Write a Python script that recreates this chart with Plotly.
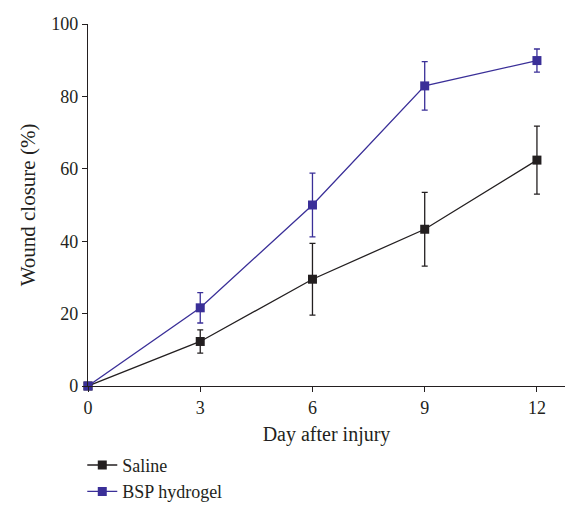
import plotly.graph_objects as go

days = [0, 3, 6, 9, 12]
saline = [0, 12.3, 29.5, 43.3, 62.4]
saline_err = [0, 3.2, 9.9, 10.2, 9.4]
bsp = [0, 21.6, 50.0, 82.9, 89.9]
bsp_err = [0, 4.2, 8.8, 6.7, 3.2]

x_ticks = [0, 3, 6, 9, 12]
y_ticks = [0, 20, 40, 60, 80, 100]

FONT = "Liberation Serif"
BLACK = "#231f20"
BLUE = "#3a2f98"

fig = go.Figure()
fig.add_trace(go.Scatter(
    x=days, y=saline, name="Saline", mode="lines+markers",
    line=dict(color=BLACK, width=1.3),
    marker=dict(symbol="square", size=9, color=BLACK),
    error_y=dict(type="data", array=saline_err, visible=True,
                 color=BLACK, thickness=1.3, width=3),
    cliponaxis=False,
))
fig.add_trace(go.Scatter(
    x=days, y=bsp, name="BSP hydrogel", mode="lines+markers",
    line=dict(color=BLUE, width=1.3),
    marker=dict(symbol="square", size=9, color=BLUE),
    error_y=dict(type="data", array=bsp_err, visible=True,
                 color=BLUE, thickness=1.3, width=3),
    cliponaxis=False,
))

fig.update_layout(
    width=565, height=510,
    margin=dict(l=88, r=0, t=24, b=124, autoexpand=False),
    paper_bgcolor="white", plot_bgcolor="white",
    font=dict(family=FONT, size=19, color=BLACK),
    showlegend=True,
    legend=dict(x=-0.012, y=-0.168, xanchor="left", yanchor="top",
                font=dict(family=FONT, size=18, color=BLACK),
                bgcolor="rgba(0,0,0,0)", tracegroupgap=0,
                itemwidth=30),
    xaxis=dict(
        range=[0, 12.75], tickvals=x_ticks, ticktext=[str(v) for v in x_ticks],
        showgrid=False, zeroline=False, showline=True, linecolor=BLACK, linewidth=1.3,
        ticks="outside", ticklen=5, tickwidth=1.3, tickcolor=BLACK,
        title=dict(text="Day after injury", font=dict(family=FONT, size=20), standoff=10),
        tickfont=dict(family=FONT, size=18), automargin=False,
    ),
    yaxis=dict(
        range=[0, 100], tickvals=y_ticks, ticktext=[str(v) for v in y_ticks],
        showgrid=False, zeroline=False, showline=True, linecolor=BLACK, linewidth=1.3,
        ticks="outside", ticklen=5, tickwidth=1.3, tickcolor=BLACK,
        title=dict(text="Wound closure (%)", font=dict(family=FONT, size=21), standoff=9),
        tickfont=dict(family=FONT, size=18), automargin=False,
    ),
)

fig.write_html("out.html")
